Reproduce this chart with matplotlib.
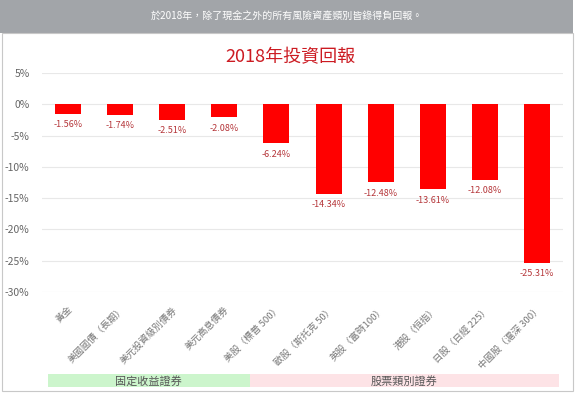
import matplotlib
matplotlib.use("Agg")
import matplotlib.pyplot as plt
from matplotlib.patches import Rectangle
from matplotlib.ticker import FuncFormatter

plt.rcParams['font.family'] = ['Noto Sans CJK TC', 'DejaVu Sans']

categories = ['黃金', '美國國債（長期）', '美元投資級別債券', '美元高息債券',
              '美股（標普 500）', '歐股（斯托克 50）', '英股（富時100）',
              '港股（恒指）', '日股（日經 225）', '中國股（滬深 300）']
returns = [-1.56, -1.74, -2.51, -2.08, -6.24, -14.34, -12.48, -13.61, -12.08, -25.31]
yticks = [5, 0, -5, -10, -15, -20, -25, -30]
groups = ['固定收益證券', '股票類別證券']
group_spans = [(-0.39, 3.49), (3.49, 9.42)]
group_colors = ['#ccf5cc', '#fde3e6']

W, H = 580, 396
fig = plt.figure(figsize=(W / 100, H / 100), dpi=100)
fig.patch.set_facecolor('white')

# top banner
fig.add_artist(Rectangle((0, 1 - 33 / H), 573 / W, 33 / H, transform=fig.transFigure,
                         facecolor='#a2a5a9', edgecolor='none', zorder=0))
fig.text(287 / W, 1 - 17 / H, '於2018年，除了現金之外的所有風險資產類別皆錄得負回報。',
         ha='center', va='center', color='white', fontsize=7.2)
# panel border
fig.add_artist(Rectangle((1.5 / W, 1 - 391 / H), 571 / W, 358 / H, transform=fig.transFigure,
                         facecolor='none', edgecolor='#c8c8c8', linewidth=0.8, zorder=0))
# title
fig.text(290 / W, 1 - 57 / H, '2018年投資回報', ha='center', va='center',
         color='#cc1b22', fontsize=13)

ax = fig.add_axes([42 / W, 1 - 292 / H, 521 / W, 219 / H])
x = list(range(len(categories)))
ax.bar(x, returns, width=0.5, color='#ff0000', zorder=2)
for xi, v in zip(x, returns):
    ax.annotate(f'{v:.2f}%', (xi, v), xytext=(0, -4.5), textcoords='offset points',
                ha='center', va='top', fontsize=6.5, color='#b5363a')

ax.set_xlim(-0.5, len(categories) - 0.5)
ax.set_ylim(-30, 5)
ax.set_yticks(yticks)
ax.yaxis.set_major_formatter(FuncFormatter(lambda v, p: f'{int(v)}%'))
ax.tick_params(axis='y', length=0, pad=9, labelsize=7.5, labelcolor='#666666')
ax.grid(axis='y', color='#e8e8e8', linewidth=0.8, zorder=0)
ax.set_axisbelow(True)
for s in ax.spines.values():
    s.set_visible(False)
ax.set_xticks(x)
ax.set_xticklabels(categories, rotation=45, ha='right', va='top',
                   rotation_mode='anchor', fontsize=6.8, color='#777777')
ax.tick_params(axis='x', length=0, pad=9)

# group bands
trans = ax.get_xaxis_transform()
for (a, b), name, col in zip(group_spans, groups, group_colors):
    ax.add_patch(Rectangle((a, -0.376), b - a, -0.06, transform=trans, facecolor=col,
                           edgecolor='none', clip_on=False))
    ax.text((a + b) / 2, -0.406, name, transform=trans, ha='center', va='center',
            fontsize=8, color='#555555', clip_on=False)

fig.savefig('out.png', dpi=100)
